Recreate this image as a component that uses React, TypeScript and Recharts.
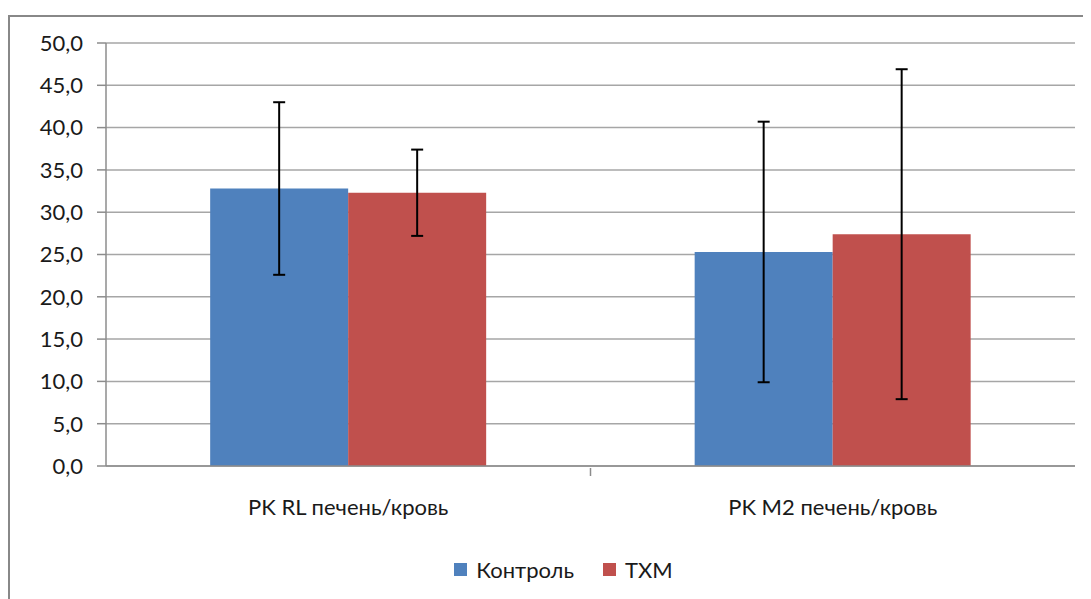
import React from "react";
import {
  BarChart,
  Bar,
  XAxis,
  YAxis,
  CartesianGrid,
  Legend,
  ErrorBar,
} from "recharts";

const categories = ["PK RL печень/кровь", "PK M2 печень/кровь"];
const controlMean = [32.8, 25.3];
const controlErr = [10.2, 15.4];
const txmMean = [32.3, 27.4];
const txmErr = [5.1, 19.5];
const yTicks = [0, 5, 10, 15, 20, 25, 30, 35, 40, 45, 50];

const data = categories.map((name, i) => ({
  name,
  control: controlMean[i],
  controlErr: controlErr[i],
  txm: txmMean[i],
  txmErr: txmErr[i],
}));

const FONT = "Lato, 'Open Sans', sans-serif";
const AXIS_GRAY = "#8c8c8c";
const TEXT = "#1a1a1a";

const CategoryTick = (props: any) => {
  const { x, y, payload, index } = props;
  const half = payload?.offset ?? 242;
  return (
    <g>
      {index === 0 && (
        <line x1={x + half} x2={x + half} y1={y - 6} y2={y + 2} stroke={AXIS_GRAY} strokeWidth={1.5} />
      )}
      <text x={x} y={y + 41} textAnchor="middle" fill={TEXT} fontSize={22} fontFamily={FONT}>
        {payload.value}
      </text>
    </g>
  );
};

const LegendContent = (props: any) => {
  const { payload = [] } = props;
  return (
    <div
      style={{
        height: 30,
        display: "flex",
        justifyContent: "center",
        alignItems: "center",
        paddingLeft: 44,
        fontFamily: FONT,
        fontSize: 22,
        color: TEXT,
      }}
    >
      {payload.map((p: any, i: number) => (
        <div key={p.value} style={{ display: "flex", alignItems: "center", marginLeft: i ? 29 : 0 }}>
          <span style={{ width: 13, height: 13, background: p.color, display: "inline-block", marginRight: 9 }} />
          <span>{p.value}</span>
        </div>
      ))}
    </div>
  );
};

export default function App() {
  return (
    <div style={{ position: "relative", width: 1083, height: 591 }}>
      <div
        style={{
          position: "absolute",
          left: 0,
          top: 7,
          width: 1100,
          height: 620,
          border: "2px solid #888",
          boxSizing: "border-box",
        }}
      />
      <div style={{ position: "absolute", left: 0, top: 0 }}>
        <BarChart
          width={1083}
          height={591}
          data={data}
          margin={{ top: 35, right: 16, left: 0, bottom: 15 }}
          barCategoryGap="21.5%"
          barGap={0}
        >
          <CartesianGrid vertical={false} stroke="#a6a6a6" strokeWidth={1.5} />
          <XAxis
            dataKey="name"
            axisLine={{ stroke: AXIS_GRAY, strokeWidth: 1.5 }}
            tickLine={false}
            tick={<CategoryTick />}
            height={88}
            interval={0}
          />
          <YAxis
            width={98}
            domain={[0, 50]}
            ticks={yTicks}
            interval={0}
            tickFormatter={(v: number) => v.toFixed(1).replace(".", ",")}
            axisLine={{ stroke: AXIS_GRAY, strokeWidth: 1.5 }}
            tickLine={{ stroke: AXIS_GRAY, strokeWidth: 1.5 }}
            tickSize={9}
            tickMargin={14}
            tick={{ fill: TEXT, fontSize: 22, fontFamily: FONT }}
          />
          <Legend verticalAlign="bottom" height={30} content={<LegendContent />} />
          <Bar dataKey="control" name="Контроль" fill="#4F81BD" isAnimationActive={false}>
            <ErrorBar dataKey="controlErr" width={6} stroke="#000" strokeWidth={2} isAnimationActive={false} />
          </Bar>
          <Bar dataKey="txm" name="ТХМ" fill="#C0504D" isAnimationActive={false}>
            <ErrorBar dataKey="txmErr" width={6} stroke="#000" strokeWidth={2} isAnimationActive={false} />
          </Bar>
        </BarChart>
      </div>
    </div>
  );
}
